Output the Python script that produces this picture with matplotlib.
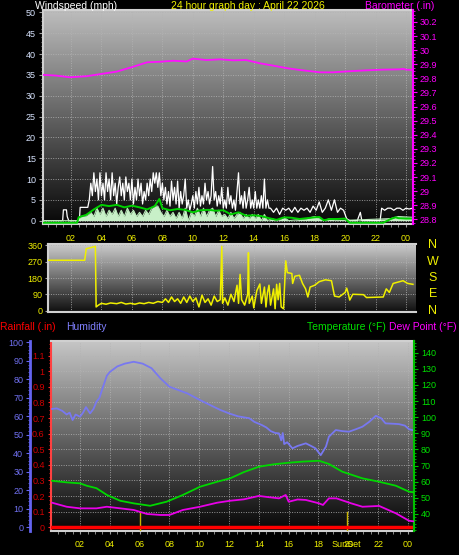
import numpy as np
import matplotlib
matplotlib.use("Agg")
import matplotlib.pyplot as plt
from matplotlib.colors import LinearSegmentedColormap
from matplotlib.ticker import MultipleLocator
import matplotlib.transforms as mtransforms

plt.rcParams['font.family'] = ['Liberation Sans', 'DejaVu Sans']

# ---------------- data (hours since midnight) ----------------
gust_t = [0.16, 1.45, 1.5, 1.7, 1.75, 1.85, 2.55, 2.6, 3.1,
          3.2, 3.3, 3.4, 3.5, 3.6, 3.7, 3.8, 3.9, 4.0, 4.1, 4.2, 4.3, 4.4, 4.5, 4.6, 4.7, 4.8, 4.9,
          5.0, 5.1, 5.2, 5.3, 5.4, 5.5, 5.6, 5.7, 5.8, 5.9, 6.0, 6.1, 6.2, 6.3, 6.4, 6.5, 6.6, 6.7,
          6.8, 6.9, 7.0, 7.1, 7.2, 7.3, 7.4, 7.5, 7.6, 7.7, 7.8, 7.9, 8.0,
          8.1, 8.2, 8.3, 8.4, 8.5, 8.6, 8.7, 8.8, 8.9, 9.0, 9.1, 9.2, 9.3, 9.4, 9.5, 9.6, 9.7, 9.8,
          9.9, 10.0, 10.1, 10.2, 10.3, 10.4, 10.5, 10.6, 10.7, 10.8, 10.9, 11.0, 11.1, 11.2, 11.3,
          11.4, 11.5, 11.6, 11.7, 11.8, 11.9, 12.0, 12.1, 12.2, 12.3, 12.4, 12.5, 12.6, 12.7, 12.8,
          12.9, 13.0, 13.1, 13.2, 13.3, 13.4, 13.5, 13.6, 13.7, 13.8, 13.9, 14.0, 14.1, 14.2, 14.3,
          14.4, 14.5, 14.6, 14.7, 14.8, 14.9, 15.0,
          15.1, 15.3, 15.5, 15.7, 15.9, 16.1, 16.3, 16.5, 16.7, 16.9, 17.1, 17.3, 17.5, 17.7, 17.9,
          18.1, 18.3, 18.5, 18.7, 18.9, 19.1, 19.3, 19.5, 19.7, 19.9, 20.1, 20.3, 20.8, 21.0, 21.1,
          22.3, 22.4, 22.6, 22.8, 23.0, 23.2, 23.4, 23.6, 23.8, 24.0, 24.2, 24.45]
gust_v = [0, 0, 2.6, 2.6, 1, 0, 0, 3.2, 3.2,
          5, 9, 6, 11.5, 7, 10, 5, 11.5, 6, 9, 5, 11.5, 7, 10, 5, 11.5, 6, 9,
          4, 8, 10.5, 6, 9, 5, 10.5, 7, 9, 5, 10, 4, 8, 5, 10, 6, 9, 4,
          7, 5, 9, 6, 10, 7, 11.5, 9, 11.5, 8, 11.5, 6, 9,
          5, 8, 4, 7, 3.5, 9.5, 5, 8, 4, 9.5, 3, 7, 4, 6, 10, 3, 5, 2.5,
          4, 6, 3, 7, 4, 8, 3.5, 6, 4, 9, 5, 7, 4, 6, 13,
          5, 7, 3.5, 6, 4, 8, 3, 5, 3, 8, 4, 6, 3, 5, 2.5,
          7, 11.5, 4, 6, 3, 7, 3, 5, 8, 3, 5, 3, 7, 3, 5,
          3, 6, 3, 10, 3, 5, 3,
          3, 2, 3, 1.5, 3, 2.5, 3, 2, 3.2, 2, 3, 2.5, 3, 2, 3.5,
          2.5, 4.5, 2, 3, 5, 2.5, 5, 2, 3, 2.5, 0.5, 0, 0, 2, 0,
          0, 3, 2.5, 3, 3, 2.5, 3, 3, 2.5, 3, 2.8, 3]

speed_t = [0.16, 2.5, 2.6, 3.0, 3.3, 3.5, 3.7, 3.9, 4.1, 4.3, 4.5, 4.7, 4.9, 5.1, 5.3, 5.5, 5.7,
           5.9, 6.1, 6.3, 6.5, 6.7, 6.9, 7.1, 7.3, 7.5, 7.7, 7.9, 8.1, 8.3, 8.5, 8.7, 8.9, 9.1,
           9.3, 9.5, 9.7, 9.9, 10.1, 10.3, 10.5, 10.7, 10.9, 11.1, 11.3, 11.5, 11.7, 11.9, 12.1,
           12.3, 12.5, 12.7, 12.9, 13.1, 13.3, 13.5, 13.7, 13.9, 14.1, 14.3, 14.5, 14.7, 14.9,
           15.2, 15.5, 16.0, 16.3, 17.5, 18.0, 18.3, 18.6, 19.0, 19.5, 23.0, 23.5, 24.45]
speed_v = [0, 0, 1, 1.2, 2, 1, 3, 1.5, 3, 1, 2.5, 1.5, 3, 1, 2.5, 1, 3,
           1.5, 2.5, 1, 2, 1, 2.5, 1.5, 3, 3.5, 3.5, 2, 1, 2.5, 1, 2, 0.5, 2,
           0.5, 3, 0, 2, 1, 3, 1, 3, 1, 2.5, 3, 1, 2.5, 1, 1.5,
           0.5, 2, 0.5, 1.5, 2, 0.5, 1.5, 0.5, 1.5, 0.5, 1.5, 0, 1.5, 0,
           0.5, 0, 0.8, 0, 0.5, 1, 0.5, 0, 0.5, 0, 0.5, 1, 0.8]

avg_t = [0.16, 2.4, 2.5, 3.0, 3.5, 4.0, 4.5, 5.0, 5.5, 6.0, 6.5, 7.0, 7.5, 7.8, 8.0, 8.5, 9.0,
         9.5, 10.0, 10.5, 11.0, 11.5, 12.0, 12.5, 13.0, 13.5, 14.0, 14.5, 15.0, 15.5, 16.0, 16.5,
         17.0, 17.5, 18.0, 18.3, 18.6, 19.0, 19.5, 20.0, 20.3, 22.5, 23.0, 23.3, 23.5, 24.0, 24.45]
avg_v = [-0.5, -0.5, 0.8, 1.4, 2.7, 3.8, 3.5, 3.8, 3.2, 3.6, 3.2, 2.7, 3.5, 5.2, 3.0, 2.5, 2.8,
         2.6, 2.0, 2.5, 2.6, 2.4, 2.5, 1.5, 2.0, 1.2, 1.3, 1.1, 0.6, 0.2, 0.8, 0.7,
         0.4, 0.6, 0.8, 0.9, 0.1, 0.4, 0.4, 0.5, -0.5, -0.5, 0.4, 0.8, 0.6, 0.5, 0.5]

baro_t = [0.16, 1.0, 1.9, 3.0, 3.9, 5.0, 6.1, 7.0, 7.85, 8.7, 9.6, 10.0, 10.9, 11.8, 12.66,
          13.5, 14.4, 15.3, 16.2, 17.0, 18.35, 19.2, 20.5, 21.4, 22.5, 23.6, 23.8, 24.0, 24.45]
baro_v = [29.825, 29.82, 29.808, 29.815, 29.83, 29.848, 29.883, 29.914, 29.918, 29.925, 29.92,
          29.94, 29.93, 29.935, 29.928, 29.93, 29.907, 29.89, 29.872, 29.86, 29.843, 29.843,
          29.852, 29.857, 29.862, 29.864, 29.868, 29.862, 29.86]

dir_t = [0.49, 2.9, 3.0, 3.3, 3.6, 3.65, 3.8, 4.0, 4.3, 4.6, 5.0, 5.3, 5.6, 5.9, 6.2, 6.5, 6.8,
         7.1, 7.4, 7.7, 8.0, 8.2, 8.4, 8.6, 8.8, 9.0, 9.2, 9.4, 9.6, 9.8, 10.0, 10.2, 10.4, 10.6,
         10.8, 11.0, 11.2, 11.4, 11.6, 11.8, 11.9, 11.95, 12.1, 12.3, 12.5, 12.7, 12.9, 13.0,
         13.1, 13.2, 13.4, 13.6, 13.65, 13.7, 13.9, 14.0, 14.2, 14.4, 14.5, 14.7, 14.8, 14.9,
         15.0, 15.1, 15.3, 15.4, 15.5, 15.6, 15.7, 15.8, 15.95, 16.1, 16.2, 16.5, 16.55, 16.7,
         17.0, 17.2, 17.4, 17.55, 17.7, 18.0, 18.3, 18.7, 19.1, 19.3, 19.6, 20.0, 20.1, 20.2,
         20.3, 20.5, 21.2, 21.4, 22.5, 22.7, 22.9, 23.15, 23.5, 23.8, 24.1, 24.45]
dir_v = [278, 278, 342, 348, 355, 20, 30, 40, 35, 42, 38, 45, 36, 40, 35, 42, 38,
         45, 40, 50, 45, 65, 45, 75, 50, 65, 40, 75, 45, 80, 50, 70, 20, 85,
         45, 65, 30, 80, 50, 60, 355, 40, 70, 30, 90, 50, 140, 40,
         200, 60, 30, 90, 320, 40, 80, 15, 110, 147, 40, 130, 20, 100,
         140, 30, 120, 10, 145, 60, 150, 20, 10, 275, 210, 205, 150, 190,
         195, 150, 120, 75, 130, 140, 160, 170, 165, 80, 75, 100, 124, 95,
         58, 90, 88, 72, 75, 120, 100, 150, 158, 165, 150, 145]

hum_t = [0.12, 0.44, 0.8, 1.1, 1.3, 1.5, 1.7, 2.0, 2.2, 2.4, 2.67, 2.9, 3.1, 3.3, 3.5, 3.8,
         4.0, 4.5, 5.0, 5.6, 6.2, 6.8, 7.4, 8.0, 8.5, 9.2, 10.0, 10.5, 11.4, 12.0, 12.6, 13.35,
         13.7, 14.2, 14.5, 14.8, 15.1, 15.35, 15.5, 15.6, 15.7, 15.9, 16.25, 16.6, 17.15, 17.5,
         17.8, 18.15, 18.3, 18.5, 18.7, 19.16, 19.6, 20.05, 20.5, 20.95, 21.4, 21.85, 22.2,
         22.5, 23.0, 23.4, 23.8, 24.08, 24.35]
hum_v = [64, 64.3, 63, 61, 62, 58, 61, 59.8, 62, 65, 61.6, 64, 67.9, 70, 75, 82,
         84, 87, 88.5, 89.5, 88.5, 86, 80.5, 76, 74.5, 72.4, 69, 67, 63.5, 61.6, 60, 59,
         57, 55.3, 54, 52, 51, 50.8, 47, 51, 45, 46, 42.7, 44, 45.4, 44,
         42.7, 39, 41, 43.6, 49, 52.6, 52, 51.7, 53, 54.4, 57, 60.3, 59,
         56.2, 56, 55.8, 55, 53, 52.5]

temp_t = [0.12, 1.1, 2.0, 2.45, 3.1, 3.8, 4.7, 5.6, 6.7, 7.8, 8.9, 10.05, 11.2, 12.07, 13.0,
          14.0, 15.0, 16.03, 17.0, 18.04, 18.7, 19.6, 20.95, 22.07, 23.2, 24.08, 24.35]
temp_v = [60.6, 59.6, 59.0, 57.5, 56.0, 51.8, 48.2, 46.6, 45.1, 47.6, 51.8, 56.9, 60.0, 62.1, 66.0,
          69.3, 70.8, 71.8, 72.5, 73.0, 71.0, 66.2, 62.1, 60.0, 57.5, 53.8, 53.5]

dew_t = [0.12, 1.1, 2.0, 3.1, 3.8, 4.7, 5.6, 6.5, 7.4, 8.0, 8.9, 10.05, 11.2, 12.07, 13.0, 14.0,
         14.6, 15.35, 15.8, 16.0, 16.6, 17.15, 18.04, 18.3, 18.7, 19.2, 20.2, 20.95, 22.07, 23.2,
         24.08, 24.35]
dew_v = [47.0, 44.5, 43.5, 43.5, 44.5, 43.5, 42.5, 40.0, 39.4, 39.4, 42.5, 44.5, 47.0, 48.2, 49.1,
         51.2, 50.5, 49.7, 51.8, 47.6, 49.0, 48.7, 46.6, 45.6, 49.7, 49.7, 46.6, 44.5, 45.0, 40.4,
         35.8, 35.5]

sunrise = 6.03
sunset = 19.9
hour_ticks = [2, 4, 6, 8, 10, 12, 14, 16, 18, 20, 22, 24]
hour_labels = ['02', '04', '06', '08', '10', '12', '14', '16', '18', '20', '22', '00']

# ---------------- figure ----------------
W, H = 459, 555
fig = plt.figure(figsize=(W / 100, H / 100), dpi=100, facecolor='black')


def px_axes(left, top, right, bottom):
    return fig.add_axes([left / W, 1 - bottom / H, (right - left) / W, (bottom - top) / H])


def gradient(ax, top, bottom):
    cmap = LinearSegmentedColormap.from_list('g', [(bottom,) * 3, (top,) * 3])
    grad = np.linspace(0, 1, 256).reshape(-1, 1)
    ax.imshow(grad, cmap=cmap, aspect='auto', extent=[0, 1, 0, 1], origin='lower',
              transform=ax.transAxes, zorder=0)


grid_kw = dict(color='#b4b4b4', linestyle=(0, (1, 1.5)), linewidth=0.7, alpha=0.8)
yel = '#f0f000'
tfs = 7.5

# ---- top panel: windspeed / barometer ----
ax1 = px_axes(43, 10, 413, 224)
gradient(ax1, 0.74, 0.03)
ax1.set_xlim(0.16, 24.46)
ax1.set_ylim(-0.8, 50.6)
ax1.fill_between(speed_t, 0, speed_v, color='#c8f0c8', lw=0, zorder=2)
ax1.plot(gust_t, gust_v, color='white', lw=0.9, zorder=3)
ax1.plot(speed_t, speed_v, color='#b8e8b8', lw=0.8, zorder=4)
ax1.plot(avg_t, avg_v, color='#00d000', lw=1.4, zorder=5)
ax1.set_yticks(np.arange(0, 51, 5))
ax1.yaxis.set_minor_locator(MultipleLocator(1))
ax1.set_xticks(hour_ticks)
ax1.set_xticklabels(hour_labels)
ax1.xaxis.set_minor_locator(MultipleLocator(0.5))
ax1.tick_params(axis='y', which='both', colors='#a0a0a0', labelcolor='#d8e4ff', labelsize=6.5,
                length=3, pad=2)
ax1.tick_params(axis='y', which='minor', length=1.5)
ax1.tick_params(axis='x', which='both', colors='#a0a0a0', labelcolor=yel, labelsize=6.5,
                length=2, pad=5)
ax1.grid(True, **grid_kw)
for s in ['left', 'bottom', 'top']:
    ax1.spines[s].set_color('#d0d0d0')
    ax1.spines[s].set_linewidth(1.5)
ax1.spines['right'].set_visible(False)

ax1b = ax1.twinx()
ax1b.set_ylim(28.767, 30.285)
ax1b.plot(baro_t, baro_v, color='#ff10ff', lw=1.3, zorder=6)
baro_ticks = np.round(np.arange(28.8, 30.21, 0.1), 1)
ax1b.set_yticks(baro_ticks)
ax1b.set_yticklabels([f'{v:g}' for v in baro_ticks])
ax1b.yaxis.set_minor_locator(MultipleLocator(0.025))
ax1b.tick_params(axis='y', which='both', colors='#ff00ff', labelsize=6.5, length=3, pad=2)
ax1b.tick_params(axis='y', which='minor', length=1.5)
ax1b.spines['right'].set_color('#ff00ff')
ax1b.spines['right'].set_linewidth(1.5)
for s in ['left', 'bottom', 'top']:
    ax1b.spines[s].set_visible(False)

fig.text(35 / W, 1 - 9 / H, 'Windspeed (mph)', color='white', fontsize=tfs, va='baseline')
fig.text(248 / W, 1 - 9 / H, '24 hour graph day : April 22 2026', color=yel, fontsize=tfs,
         va='baseline', ha='center')
fig.text(434 / W, 1 - 9 / H, 'Barometer (.in)', color='#ff00ff', fontsize=tfs, va='baseline',
         ha='right')

# ---- direction panel ----
ax2 = px_axes(48, 244, 416, 312)
gradient(ax2, 0.8, 0.06)
ax2.set_xlim(0.49, 24.65)
ax2.set_ylim(-8, 368)
ax2.plot(dir_t, dir_v, color='#f0f000', lw=1.1, zorder=3)
ax2.set_yticks([0, 90, 180, 270, 360])
ax2.set_xticks(hour_ticks)
ax2.tick_params(axis='x', which='both', length=0, labelbottom=False)
ax2.tick_params(axis='y', colors='#a0a0a0', labelcolor=yel, labelsize=6.5, length=2, pad=2)
ax2.grid(True, **grid_kw)
for s in ['left', 'bottom', 'top']:
    ax2.spines[s].set_color('#d0d0d0')
    ax2.spines[s].set_linewidth(1.5)
ax2.spines['right'].set_visible(False)
trans = mtransforms.blended_transform_factory(ax2.transAxes, ax2.transData)
for lab, v in zip(['N', 'W', 'S', 'E', 'N'], [360, 270, 180, 90, 0]):
    ax2.text(1.046, v, lab, transform=trans, color=yel, fontsize=9, ha='center', va='center')

# ---- bottom panel: rain / humidity / temperature ----
fig.text(0, 1 - 327 / H, 'Rainfall (.in)', color='#ff0000', fontsize=tfs, va='center')
fig.text(66 / W, 1 - 327 / H, 'Humidity', color='#8080ff', fontsize=tfs, va='center')
fig.text(386 / W, 1 - 327 / H, 'Temperature (°F)', color='#00e000', fontsize=tfs, va='center',
         ha='right')
fig.text(457 / W, 1 - 327 / H, 'Dew Point (°F)', color='#ff00ff', fontsize=tfs, va='center',
         ha='right')

ax3 = px_axes(51, 340.7, 414, 530.7)
gradient(ax3, 0.78, 0.02)
ax3.set_xlim(0.05, 24.41)
ax3.set_ylim(-0.022, 1.196)
ax3.axhline(0, color='#ff0000', lw=2.5, zorder=6)
ax3.axvline(sunrise, ymin=0, ymax=0.1, color='#c8b400', lw=1, zorder=5)
ax3.axvline(sunset, ymin=0, ymax=0.1, color='#c8b400', lw=1, zorder=5)
rain_ticks = np.round(np.arange(0, 1.11, 0.1), 1)
ax3.set_yticks(rain_ticks)
ax3.set_yticklabels([f'{v:g}' for v in rain_ticks])
ax3.yaxis.set_minor_locator(MultipleLocator(0.025))
ax3.set_xticks(hour_ticks)
ax3.set_xticklabels(hour_labels)
ax3.xaxis.set_minor_locator(MultipleLocator(0.5))
ax3.tick_params(axis='y', which='both', colors='#ff2020', labelcolor='#d00000', labelsize=6.5,
                length=2.5, pad=2)
ax3.tick_params(axis='y', which='minor', length=1.2)
ax3.tick_params(axis='x', which='both', colors='#a0a0a0', labelcolor=yel, labelsize=6.5,
                length=2, pad=5)
ax3.text(sunset, -0.075, 'SunSet', color=yel, fontsize=6.5, ha='center', va='center',
         transform=mtransforms.blended_transform_factory(ax3.transData, ax3.transAxes))
ax3.grid(True, **grid_kw)
ax3.spines['left'].set_color('#ff4040')
ax3.spines['left'].set_linestyle((0, (2, 1)))
ax3.spines['left'].set_linewidth(1.5)
for s in ['bottom', 'top']:
    ax3.spines[s].set_color('#d0d0d0')
    ax3.spines[s].set_linewidth(1.5)
ax3.spines['right'].set_visible(False)

ax_h = ax3.twinx()
ax_h.yaxis.tick_left()
ax_h.spines['left'].set_position(('outward', 15))
ax_h.spines['left'].set_visible(True)
ax_h.spines['left'].set_color('#6464f0')
ax_h.spines['left'].set_linewidth(2)
for s in ['right', 'top', 'bottom']:
    ax_h.spines[s].set_visible(False)
ax_h.set_ylim(-1.84, 100.9)
ax_h.plot(hum_t, hum_v, color='#7878f0', lw=1.3, zorder=3)
ax_h.set_yticks(np.arange(0, 101, 10))
ax_h.yaxis.set_minor_locator(MultipleLocator(2))
ax_h.tick_params(axis='y', which='both', colors='#6464f0', labelcolor='#7070f0', labelsize=6.5,
                 length=3, pad=2)
ax_h.tick_params(axis='y', which='minor', length=1.5)

ax_t = ax3.twinx()
ax_t.set_ylim(29.65, 147.4)
ax_t.plot(temp_t, temp_v, color='#00d800', lw=1.3, zorder=4)
ax_t.plot(dew_t, dew_v, color='#e800e8', lw=1.3, zorder=4)
ax_t.set_yticks(np.arange(40, 141, 10))
ax_t.yaxis.set_minor_locator(MultipleLocator(2))
ax_t.tick_params(axis='y', which='both', colors='#00c000', labelcolor='#00e000', labelsize=6.5,
                 length=3, pad=2)
ax_t.tick_params(axis='y', which='minor', length=1.5)
ax_t.spines['right'].set_color('#00c000')
ax_t.spines['right'].set_linewidth(1.5)
for s in ['left', 'top', 'bottom']:
    ax_t.spines[s].set_visible(False)

fig.savefig('out.png', dpi=100, facecolor='black')
